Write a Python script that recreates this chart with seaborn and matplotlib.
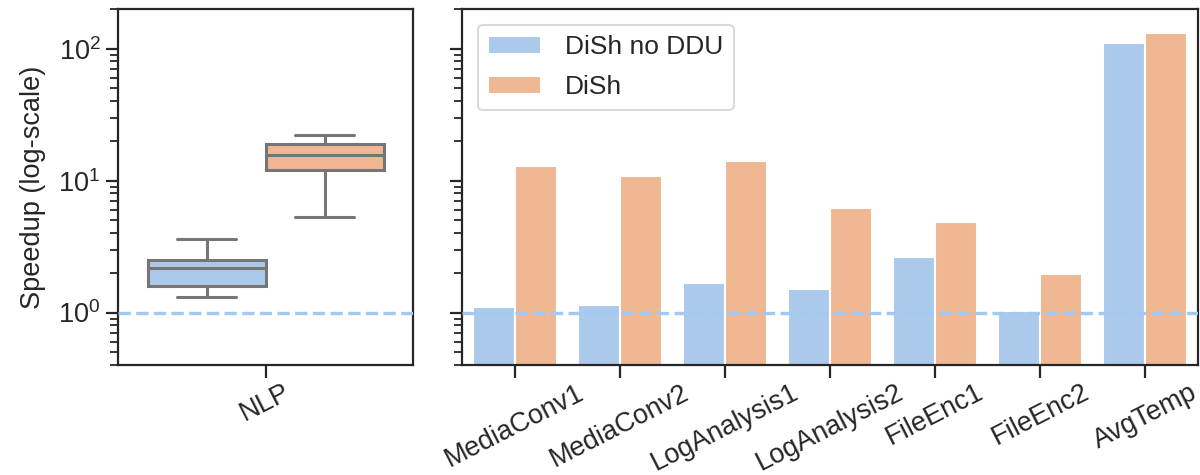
import numpy as np
import pandas as pd
import matplotlib
matplotlib.use("Agg")
import matplotlib.pyplot as plt
import seaborn as sns

# NLP per-run speedups (five summary points per configuration)
nlp_no_ddu = [1.31, 1.58, 2.17, 2.48, 3.64]
nlp_dish = [5.27, 12.0, 15.7, 19.0, 22.2]

# Per-benchmark speedups
benchmarks = ["MediaConv1", "MediaConv2", "LogAnalysis1", "LogAnalysis2",
              "FileEnc1", "FileEnc2", "AvgTemp"]
speedup_no_ddu = [1.10, 1.14, 1.67, 1.51, 2.64, 1.035, 111]
speedup_dish = [12.9, 10.8, 14.2, 6.17, 4.89, 1.95, 131.5]

configs = ["DiSh no DDU", "DiSh"]

sns.set_theme(style="ticks", palette="pastel")
plt.rcParams["font.family"] = ["Liberation Sans", "DejaVu Sans"]
plt.rcParams["mathtext.fontset"] = "custom"
plt.rcParams["mathtext.rm"] = "Liberation Sans"
plt.rcParams["mathtext.it"] = "Liberation Sans:italic"
plt.rcParams["axes.edgecolor"] = "#262626"
plt.rcParams["axes.linewidth"] = 1.6

FS = 19.5
LEG_FS = 19
pal = sns.color_palette("pastel")

box_df = pd.DataFrame({
    "bench": ["NLP"] * (len(nlp_no_ddu) + len(nlp_dish)),
    "speedup": nlp_no_ddu + nlp_dish,
    "config": [configs[0]] * len(nlp_no_ddu) + [configs[1]] * len(nlp_dish),
})
bar_df = pd.DataFrame({
    "bench": benchmarks * 2,
    "speedup": speedup_no_ddu + speedup_dish,
    "config": [configs[0]] * len(benchmarks) + [configs[1]] * len(benchmarks),
})

W, H = 1200, 475
fig = plt.figure(figsize=(12, 4.75), dpi=100)
bottom = 1 - 365 / H
height = 356 / H
ax1 = fig.add_axes([118 / W, bottom, 295 / W, height])
ax2 = fig.add_axes([462 / W, bottom, 736 / W, height], sharey=ax1)
ax1.set_yscale("log")

sns.boxplot(data=box_df, x="bench", y="speedup", hue="config",
            hue_order=configs, palette=pal[:2], whis=(0, 100),
            linecolor="#767676", linewidth=2.2, width=0.8,
            legend=False, ax=ax1)

sns.barplot(data=bar_df, x="bench", y="speedup", hue="config",
            hue_order=configs, palette=pal[:2], order=benchmarks,
            edgecolor="white", linewidth=1.5, errorbar=None, ax=ax2)

for ax in (ax1, ax2):
    ax.axhline(1, color=pal[0], ls="--", lw=2.4, zorder=5)
    ax.set_ylim(0.4, 200)
    ax.set_xlabel("")
    ax.tick_params(axis="both", which="major", length=9, width=1.6,
                   labelsize=FS, color="#262626")
    ax.tick_params(axis="x", which="major", pad=1.5)
    ax.tick_params(axis="y", which="minor", length=6, width=1.3,
                   color="#262626")
    for lab in ax.get_xticklabels():
        lab.set_rotation(27)
        lab.set_ha("center")

ax1.set_ylabel("Speedup (log-scale)", fontsize=FS, labelpad=9)
ax2.set_ylabel("")
ax2.tick_params(axis="y", which="both", labelleft=False)

leg = ax2.legend(loc="upper left", fontsize=LEG_FS, handlelength=2.0,
                 handletextpad=0.9, labelspacing=0.6, borderaxespad=0.6,
                 frameon=True)
leg.get_frame().set_edgecolor("#d0d0d0")
leg.get_frame().set_linewidth(1.5)

fig.savefig("out.png", dpi=100)
